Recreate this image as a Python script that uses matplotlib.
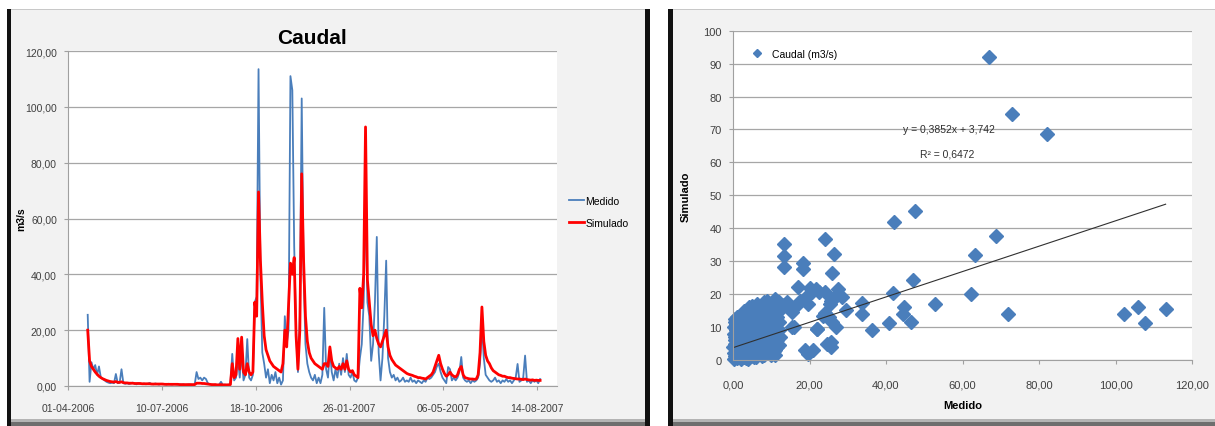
import pandas as pd
import matplotlib
matplotlib.use("Agg")
import matplotlib.pyplot as plt
from matplotlib.patches import Rectangle

plt.rcParams['font.family'] = ['Liberation Sans Narrow', 'Liberation Sans', 'DejaVu Sans']

# ---- serie temporal (cada 2 dias desde 22-04-2006) ----
inicio_serie = "2006-04-22"
paso_dias = 2
medido = [
    25.5, 1.5, 8.5, 6.0, 7.5, 4.0, 7.0, 3.0, 2.5, 2.0,
    1.5, 1.2, 1.0, 1.2, 1.0, 4.3, 1.0, 1.2, 6.0, 1.0,
    0.8, 1.0, 0.7, 0.9, 1.2, 0.8, 0.6, 1.0, 0.8, 0.7,
    0.9, 0.6, 0.8, 1.1, 0.7, 0.6, 0.9, 0.7, 0.5, 0.8,
    0.6, 0.7, 0.5, 0.8, 0.6, 0.5, 0.7, 0.6, 0.5, 0.6,
    0.5, 0.6, 0.4, 0.5, 0.6, 0.5, 0.4, 0.6, 5.0, 2.5,
    3.0, 2.0, 3.0, 2.5, 1.0, 0.6, 0.5, 0.4, 0.5, 0.4,
    0.5, 1.5, 0.4, 0.5, 0.4, 0.5, 0.6, 11.5, 2.0, 3.0,
    10.0, 3.0, 12.0, 2.0, 4.0, 16.8, 3.0, 2.0, 4.0, 30.0,
    32.0, 113.5, 40.0, 12.0, 8.0, 3.0, 6.0, 1.0, 4.0, 2.0,
    5.0, 1.0, 3.0, 0.5, 2.0, 25.0, 15.0, 20.0, 111.0, 106.0,
    50.0, 20.0, 5.0, 25.0, 103.0, 40.0, 15.0, 8.0, 5.0, 3.0,
    2.0, 4.0, 1.0, 3.0, 1.0, 4.0, 28.0, 6.0, 3.0, 13.0,
    5.0, 2.0, 6.0, 3.0, 8.0, 4.0, 10.0, 5.0, 11.5, 4.0,
    3.0, 5.0, 2.0, 1.5, 3.0, 10.0, 15.0, 30.0, 69.5, 30.0,
    25.0, 9.0, 15.0, 30.0, 53.4, 12.0, 2.0, 10.0, 25.0, 44.9,
    10.0, 5.0, 3.0, 4.0, 2.0, 3.0, 1.5, 2.0, 3.0, 1.5,
    2.0, 1.5, 3.0, 1.5, 2.0, 1.0, 2.0, 1.5, 1.0, 2.0,
    1.5, 3.0, 2.5, 3.0, 4.0, 5.0, 7.0, 8.0, 5.0, 3.0,
    2.0, 1.0, 6.8, 6.0, 2.0, 3.0, 2.0, 3.0, 5.0, 10.4,
    3.0, 2.0, 1.5, 2.0, 1.0, 2.0, 1.5, 2.0, 3.0, 8.0,
    22.0, 10.0, 4.0, 3.0, 2.0, 1.5, 2.0, 3.0, 1.5, 2.0,
    1.0, 2.0, 1.5, 2.5, 1.5, 2.0, 1.0, 2.0, 3.0, 7.9,
    1.5, 2.0, 3.0, 10.9, 1.5, 2.0, 1.0, 2.0, 1.5, 2.0,
    1.0, 2.5,
]
simulado = [
    20.0, 9.0, 7.0, 6.0, 5.0, 4.2, 3.5, 3.0, 2.6, 2.3,
    2.0, 1.8, 1.6, 1.5, 1.4, 1.6, 1.3, 1.3, 1.5, 1.2,
    1.1, 1.1, 1.0, 1.0, 1.0, 0.9, 0.9, 0.9, 0.9, 0.8,
    0.8, 0.8, 0.8, 0.8, 0.7, 0.7, 0.7, 0.7, 0.7, 0.7,
    0.7, 0.6, 0.6, 0.6, 0.6, 0.6, 0.6, 0.6, 0.6, 0.5,
    0.5, 0.5, 0.5, 0.5, 0.5, 0.5, 0.5, 0.5, 1.0, 1.0,
    1.0, 0.9, 0.9, 0.8, 0.7, 0.6, 0.5, 0.5, 0.5, 0.4,
    0.4, 0.5, 0.4, 0.4, 0.4, 0.4, 0.5, 8.0, 3.0, 4.0,
    17.0, 6.0, 17.5, 5.0, 4.0, 8.0, 5.0, 4.0, 5.0, 30.0,
    25.0, 69.5, 45.0, 30.0, 18.0, 13.0, 11.0, 9.0, 8.0, 7.0,
    6.5, 6.0, 5.5, 5.0, 8.0, 20.0, 14.0, 28.6, 44.0, 40.0,
    46.0, 18.0, 6.0, 20.0, 76.0, 45.0, 25.0, 16.0, 12.0, 10.0,
    9.0, 8.0, 7.5, 7.0, 6.5, 6.0, 8.0, 8.0, 7.0, 14.0,
    9.0, 7.0, 6.5, 6.0, 7.0, 6.0, 8.0, 6.0, 9.0, 6.0,
    5.0, 5.5, 4.0, 3.5, 3.0, 35.0, 28.0, 40.0, 92.8, 38.0,
    30.0, 22.0, 18.0, 20.0, 17.0, 15.0, 14.0, 16.0, 18.0, 20.0,
    14.0, 11.0, 9.5, 8.5, 7.5, 7.0, 6.5, 6.0, 5.5, 5.0,
    4.5, 4.2, 4.0, 3.8, 3.5, 3.3, 3.0, 3.0, 2.8, 2.7,
    2.5, 3.0, 3.5, 4.0, 5.0, 7.0, 9.0, 11.0, 8.0, 6.0,
    4.5, 3.5, 4.0, 5.0, 4.0, 3.5, 3.2, 4.0, 6.0, 7.0,
    4.0, 3.0, 2.8, 2.6, 2.5, 2.5, 2.4, 2.5, 4.0, 12.0,
    28.3, 16.0, 11.0, 9.0, 8.0, 6.5, 5.5, 5.0, 4.5, 4.0,
    3.8, 3.5, 3.5, 3.2, 3.0, 3.0, 2.8, 2.7, 2.6, 2.5,
    2.5, 2.4, 2.3, 2.5, 2.3, 2.2, 2.1, 2.2, 2.0, 2.1,
    2.0, 2.0,
]
fechas_ticks = ["01-04-2006", "10-07-2006", "18-10-2006", "26-01-2007", "06-05-2007", "14-08-2007"]
y_ticks_serie = [0, 20, 40, 60, 80, 100, 120]

# ---- dispersion medido vs simulado ----
medido_disp = [
    66.8, 73.0, 82.0, 47.6, 42.1, 68.7, 63.2, 62.1, 52.7, 71.9,
    47.0, 41.9, 44.7, 44.5, 46.5, 40.8, 36.3, 33.6, 33.7, 29.6,
    28.4, 27.5, 26.4, 25.8, 25.5, 26.8, 25.6, 25.5, 24.0, 24.0,
    24.0, 25.0, 22.0, 21.0, 18.8, 21.7, 20.6, 19.2, 18.3, 18.3,
    16.9, 16.0, 13.3, 13.3, 13.3, 11.9, 13.3, 14.7, 102.1, 105.8,
    107.6, 113.1, 19.6, 27.0, 25.3, 23.5, 25.8, 21.9, 15.3, 24.5,
    19.6, 16.6, 14.0, 10.1, 15.5, 17.5, 20.0, 22.5, 12.5, 14.2,
    # nube cerca del origen
    0.2, 0.3, 0.1, 0.4, 0.2, 0.3, 0.5,
    1.0, 1.2, 0.9, 1.1, 1.3, 0.8, 1.0,
    2.0, 2.2, 1.9, 2.1, 2.3, 1.8, 2.0,
    3.0, 3.2, 2.9, 3.1, 3.3, 2.8, 3.0,
    4.0, 4.2, 3.9, 4.1, 4.3, 3.8, 4.0, 4.2,
    5.0, 5.2, 4.9, 5.1, 5.3, 4.8, 5.0,
    6.0, 6.2, 5.9, 6.1, 6.3, 5.8, 6.0, 6.2,
    7.0, 7.2, 6.9, 7.1, 7.3, 6.8, 7.0,
    8.0, 8.2, 7.9, 8.1, 8.3, 7.8, 8.0, 8.2,
    9.0, 9.2, 8.9, 9.1, 9.3, 8.8, 9.0,
    10.0, 10.2, 9.9, 10.1, 10.3, 9.8, 10.0,
    11.0, 11.2, 10.9, 11.1, 11.3, 10.8, 11.0, 11.0,
    12.0, 12.2, 11.9, 12.1, 11.8,
    0.6, 0.7, 0.5, 0.6, 0.7, 0.6,
    1.6, 1.5, 1.7, 1.4, 1.6, 1.5,
    2.6, 2.5, 2.7, 2.4, 2.6, 2.5,
    3.5, 3.6, 3.4, 3.5, 3.7, 3.6, 3.5,
    4.6, 4.5, 4.7, 4.4, 4.6, 4.5, 4.6,
    5.5, 5.6, 5.4, 5.5, 5.7, 5.6, 5.5,
    6.6, 6.5, 6.7, 6.4, 6.6, 6.5,
    7.5, 7.6, 7.4, 7.5, 7.7, 7.6, 7.5,
    8.6, 8.5, 8.7, 8.4, 8.6, 8.5,
    9.5, 9.6, 9.4, 9.5, 9.7, 9.6,
    10.6, 10.5, 10.7, 10.4, 10.6, 10.5,
    11.5, 11.6, 11.4, 11.5,
]
simulado_disp = [
    92.0, 74.7, 68.5, 45.2, 41.9, 37.7, 31.9, 20.1, 17.1, 14.1,
    24.3, 20.3, 16.1, 14.1, 11.4, 11.1, 9.0, 17.4, 14.1, 15.1,
    19.1, 21.6, 32.2, 26.4, 17.8, 10.1, 5.5, 4.0, 36.7, 20.6,
    14.4, 13.1, 9.5, 3.0, 3.0, 21.6, 20.6, 19.1, 29.6, 27.6,
    22.1, 10.1, 35.2, 31.7, 28.1, 17.6, 16.6, 16.1, 14.1, 16.1,
    11.1, 15.4, 17.0, 19.5, 17.0, 13.5, 11.5, 9.4, 9.9, 4.9,
    1.8, 16.5, 17.5, 15.0, 14.5, 18.0, 22.0, 20.5, 15.5, 17.0,
    0.3, 2.0, 4.0, 6.0, 8.0, 10.0, 12.5,
    0.5, 3.0, 5.0, 7.0, 9.0, 11.0, 13.0,
    0.2, 1.8, 4.0, 6.5, 8.5, 12.0, 13.5,
    1.0, 3.0, 5.5, 7.5, 10.0, 12.5, 15.0,
    0.4, 2.5, 4.5, 6.5, 9.0, 11.0, 14.0, 16.0,
    1.5, 3.5, 6.0, 8.0, 10.5, 13.0, 16.5,
    1.0, 3.0, 5.0, 7.5, 9.5, 12.0, 15.0, 17.0,
    2.0, 4.5, 6.5, 9.0, 11.0, 14.5, 16.5,
    1.5, 3.5, 6.0, 8.5, 10.5, 13.0, 15.5, 17.5,
    2.5, 5.0, 7.0, 9.5, 12.0, 16.0, 18.0,
    1.5, 4.0, 6.5, 8.0, 11.0, 13.5, 17.0,
    3.0, 5.5, 7.5, 10.0, 12.5, 15.0, 18.5, 1.5,
    4.5, 7.0, 9.0, 11.5, 16.5,
    1.2, 3.1, 5.0, 7.1, 9.1, 11.4,
    0.8, 2.9, 5.2, 7.3, 10.2, 12.6,
    2.1, 3.4, 5.3, 7.6, 9.7, 11.2,
    0.6, 2.2, 4.1, 6.3, 8.6, 11.8, 13.9,
    1.1, 3.2, 5.4, 7.6, 10.1, 12.4, 15.2,
    0.9, 2.6, 4.6, 7.1, 9.2, 11.7, 14.8,
    2.3, 4.2, 6.2, 8.6, 11.5, 14.1,
    1.2, 3.3, 5.6, 7.9, 10.2, 12.7, 15.6,
    2.7, 4.8, 7.1, 9.3, 12.3, 14.6,
    3.2, 5.7, 8.2, 10.4, 13.8, 16.7,
    2.8, 5.1, 7.3, 9.8, 12.1, 15.9,
    3.8, 6.1, 8.8, 13.2,
]
pendiente = 0.3852
intercepto = 3.742
r2 = 0.6472

azul = '#4a7ebb'
rojo = '#ff0000'
gris_grid = '#a6a6a6'
W, H = 1215, 427


def caja(x0, y0, x1, y1, color):
    # rectangulo en pixeles (origen arriba-izquierda)
    return Rectangle((x0 / W, 1 - y1 / H), (x1 - x0) / W, (y1 - y0) / H,
                     transform=fig.transFigure, facecolor=color, edgecolor='none', zorder=-5)


fig = plt.figure(figsize=(W / 100, H / 100), dpi=100, facecolor='white')

# marcos de los dos graficos
for x0, x1 in [(7, 650), (668, 1215)]:
    fig.add_artist(caja(x0, 10, x1, 427, '#f2f2f2'))
    fig.add_artist(caja(x0, 10, x1, 11, '#c8c8c8'))
    fig.add_artist(caja(x0, 420, x1, 423, '#b4b4b4'))
    fig.add_artist(caja(x0, 423, x1, 427, '#6e6e6e'))
fig.add_artist(caja(7, 10, 11, 427, '#111111'))
fig.add_artist(caja(645, 10, 650, 427, '#111111'))
fig.add_artist(caja(668, 10, 673, 427, '#111111'))

# ---------- grafico 1: serie temporal ----------
ax1 = fig.add_axes([68 / W, 1 - 387 / H, 489 / W, 335 / H])
fechas = pd.date_range(inicio_serie, periods=len(medido), freq=f"{paso_dias}D")
ax1.plot(fechas, medido, color=azul, lw=1.3, label='Medido')
ax1.plot(fechas, simulado, color=rojo, lw=2.0, label='Simulado')

t0 = pd.to_datetime(fechas_ticks[0], format="%d-%m-%Y")
ax1.set_xlim(t0, t0 + pd.Timedelta(days=521))
ax1.set_ylim(0, 120)
ax1.set_xticks(pd.to_datetime(fechas_ticks, format="%d-%m-%Y"))
ax1.set_xticklabels(fechas_ticks, fontsize=7.5, color='#404040')
ax1.set_yticks(y_ticks_serie)
ax1.set_yticklabels([f"{v:.2f}".replace('.', ',') for v in y_ticks_serie], fontsize=7.5, color='#404040')
ax1.grid(axis='y', color=gris_grid, lw=0.9)
ax1.set_axisbelow(True)
for s in ['top', 'right']:
    ax1.spines[s].set_visible(False)
ax1.spines['left'].set_color('#a0a0a0')
ax1.spines['bottom'].set_color('#a0a0a0')
ax1.tick_params(axis='y', length=3, color='#a0a0a0', pad=5)
ax1.tick_params(axis='x', length=3, color='#a0a0a0', pad=9)
ax1.set_title('Caudal', fontsize=15, fontweight='bold', pad=6)
ax1.set_ylabel('m3/s', fontsize=7.5, fontweight='bold')
ax1.yaxis.set_label_coords(-0.086, 0.5)
ax1.legend(loc='center left', bbox_to_anchor=(1.005, 0.52), frameon=False,
           fontsize=7.5, handlelength=1.5, handletextpad=0.1, labelspacing=1.1)

# ---------- grafico 2: dispersion ----------
ax2 = fig.add_axes([733 / W, 1 - 361 / H, 459 / W, 329.3 / H])
ax2.plot(medido_disp, simulado_disp, linestyle='none', marker='D', ms=6.8,
         color=azul, mec=azul, label='Caudal (m3/s)', clip_on=False)
x_fin = max(medido_disp)
ax2.plot([0, x_fin], [intercepto, pendiente * x_fin + intercepto], color='#303030', lw=0.8)
ax2.text(56.5, 70, f"y = {pendiente}x + {intercepto}".replace('.', ','), ha='center', va='center',
         fontsize=7.5, color='#303030')
ax2.text(56.0, 62.8, f"R² = {r2}".replace('.', ','), ha='center', va='center',
         fontsize=7.5, color='#303030')

ax2.set_xlim(0, 120)
ax2.set_ylim(0, 100)
ax2.set_xticks(range(0, 121, 20))
ax2.set_xticklabels([f"{v:.2f}".replace('.', ',') for v in range(0, 121, 20)], fontsize=8, color='#404040')
ax2.set_yticks(range(0, 101, 10))
ax2.set_yticklabels([str(v) for v in range(0, 101, 10)], fontsize=8, color='#404040')
ax2.grid(axis='y', color=gris_grid, lw=0.9)
ax2.set_axisbelow(True)
for s in ['top', 'right']:
    ax2.spines[s].set_visible(False)
ax2.spines['left'].set_color('#a0a0a0')
ax2.spines['bottom'].set_color('#a0a0a0')
ax2.tick_params(axis='y', length=3, color='#a0a0a0', pad=5)
ax2.tick_params(axis='x', length=3, color='#a0a0a0', pad=11)
ax2.set_xlabel('Medido', fontsize=8, fontweight='bold')
ax2.xaxis.set_label_coords(0.5, -0.12)
ax2.set_ylabel('Simulado', fontsize=8, fontweight='bold')
ax2.yaxis.set_label_coords(-0.092, 0.5)
ax2.legend(loc='center left', bbox_to_anchor=(0.01, 0.93), frameon=False,
           fontsize=7.5, handletextpad=0.4, markerscale=0.6)

fig.savefig('out.png', dpi=100, facecolor='white')
